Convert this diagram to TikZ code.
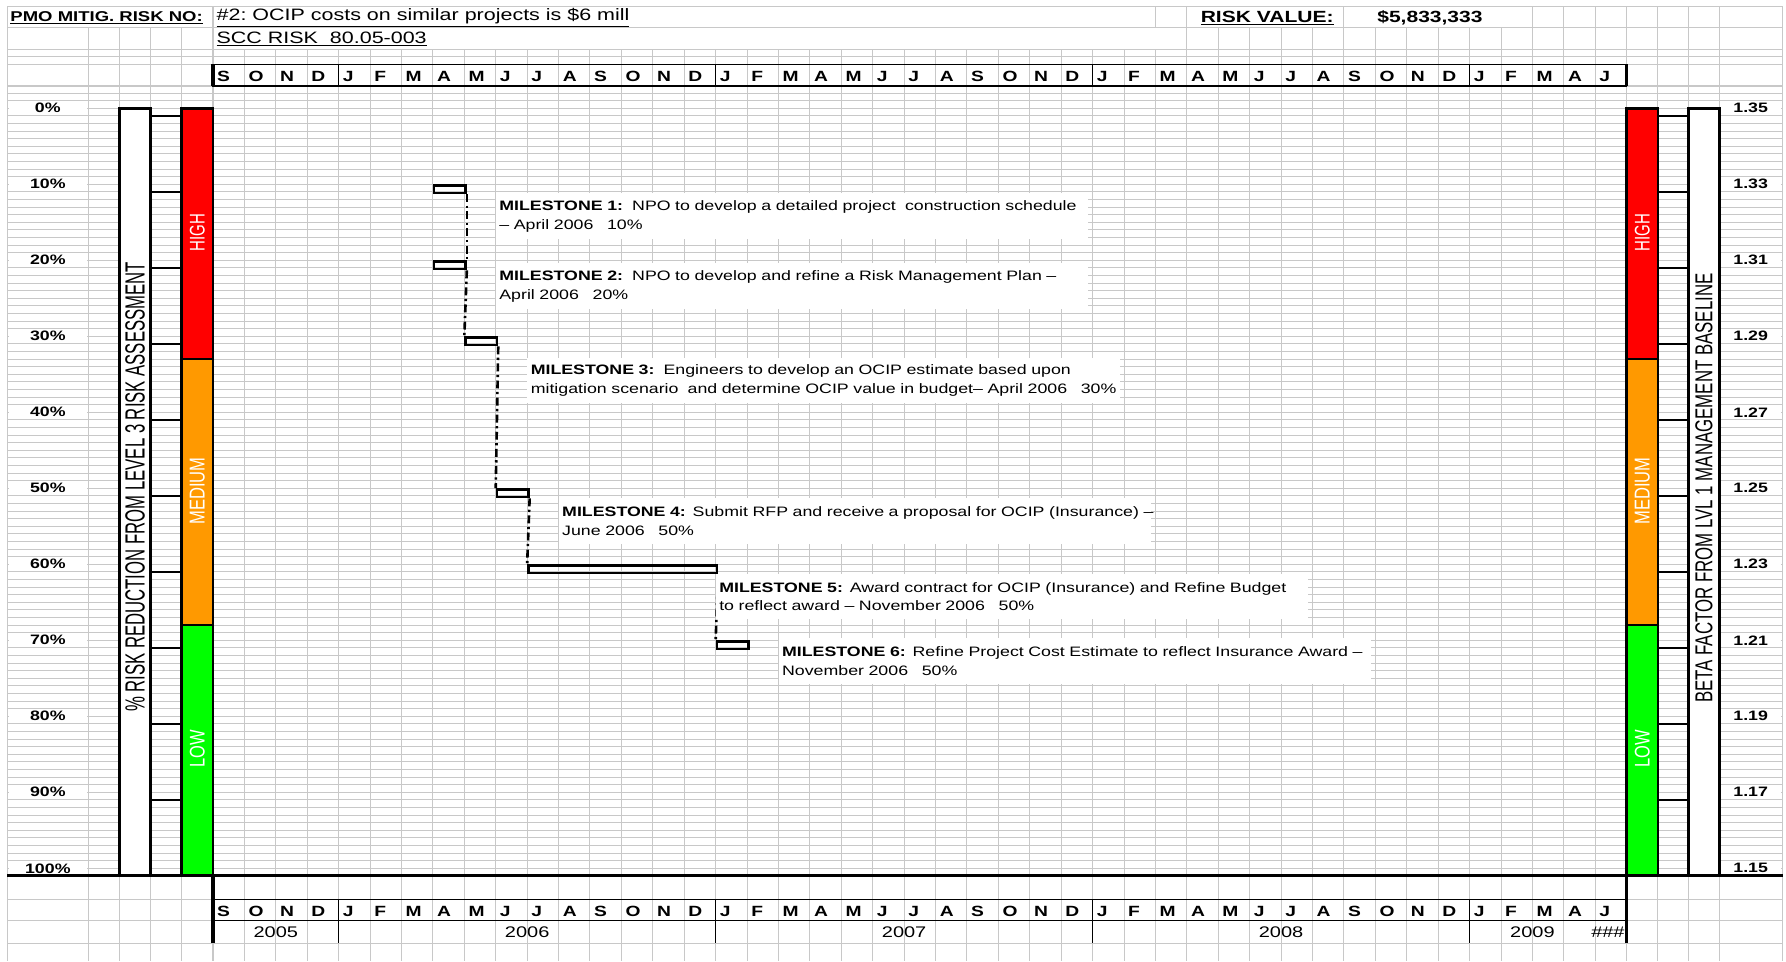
\documentclass[tikz,border=0pt]{standalone}
\usepackage{fontspec}
\setmainfont{Liberation Sans}[FakeStretch=1.3]
\usepackage{graphicx}

\definecolor{gridgray}{RGB}{200,200,200}
\definecolor{riskred}{RGB}{255,0,0}
\definecolor{riskorange}{RGB}{255,153,0}
\definecolor{riskgreen}{RGB}{0,255,0}

\newcommand{\barlabel}[3]{\resizebox{#1pt}{#2pt}{#3}}

\tikzset{
    gridline/.style={draw=gridgray, line width=0.9pt},
    barline/.style={draw=black, line width=2.3pt},
    tickline/.style={draw=black, line width=1.6pt},
    hdrline/.style={draw=black, line width=1.1pt},
    msbox/.style={draw, line width=2.2pt, minimum width=27.58pt, minimum height=6.67pt,
        inner sep=0pt, anchor=north west},
    note/.style={fill=white, anchor=north west, minimum width=520pt, minimum height=40pt,
        text width=514pt, inner xsep=3pt, inner ysep=0pt, align=left,
        font=\fontsize{12}{16.5}\selectfont},
    link/.style={line width=2.3pt, dash pattern=on 7pt off 3pt on 2pt off 3pt},
    pct/.style={fill=white, minimum height=12pt, inner sep=0pt,
        font=\bfseries\fontsize{12}{13}\selectfont},
    month/.style={anchor=west, inner sep=0pt, font=\bfseries\fontsize{13}{15}\selectfont},
    year/.style={inner sep=0pt, font=\fontsize{13.5}{15}\selectfont},
    risklevel/.style={rotate=90, inner sep=0pt, text=white},
    header/.style={anchor=west, inner sep=0pt, font=\fontsize{14.5}{16}\selectfont},
}

\begin{document}
\begin{tikzpicture}[x=1pt, y=-1pt]
    \pgfmathsetmacro\colw{27.58};
    \pgfmathsetmacro\rowh{6.673};
    \pgfmathsetmacro\xzero{187};
    \pgfmathsetmacro\yzero{95};
    \pgfmathsetmacro\ybase{768.7};

    \useasboundingbox (0,0) rectangle (1568,844);
    \fill[white] (0,0) rectangle (1568,844);

    \foreach \k in {0,...,101}
        \draw[gridline] (6.4, \yzero + \k * \rowh) -- (1565, \yzero + \k * \rowh);
    \foreach \y in {6,24.3,43.3,49.8,56.5,75.5,82,88.4,790,808,828}
        \draw[gridline] (6.4, \y) -- (1565, \y);
    \foreach \j in {0,...,45}
        \draw[gridline] (\xzero + \j * \colw, 43.3) -- (\xzero + \j * \colw, 844);
    \foreach \j in {0,31,32,...,45}
        \draw[gridline] (\xzero + \j * \colw, 24.3) -- (\xzero + \j * \colw, 43.3);
    \foreach \j in {0,30,31,36,42,43,44,45}
        \draw[gridline] (\xzero + \j * \colw, 6) -- (\xzero + \j * \colw, 24.3);
    \foreach \x in {77.6,105,132,159.5}
        \draw[gridline] (\x, 24.3) -- (\x, 844);
    \foreach \x in {6.4,1455.5,1482.5,1509.5,1565}
        \draw[gridline] (\x, 6) -- (\x, 844);

    \foreach \i in {0,...,10} {
        \pgfmathtruncatemacro\pv{10 * \i}
        \node[pct, minimum width=69pt] (pct\i) at (42, \yzero + \i * 10 * \rowh) {\pv\%};
    }
    \foreach \b [count=\i from 0] in {1.35,1.33,1.31,1.29,1.27,1.25,1.23,1.21,1.19,1.17,1.15}
        \node[pct, minimum width=54pt] (beta\i) at (1537, \yzero + \i * 10 * \rowh) {\b};

    \draw[barline, fill=white] (105, \yzero) rectangle (132, \ybase);
    \draw[barline, fill=white] (1482.5, \yzero) rectangle (1509.5, \ybase);
    \foreach \x in {159.5,1428.1} {
        \fill[riskred] (\x, \yzero) rectangle (\x + 27.4, \yzero + 33 * \rowh);
        \fill[riskorange] (\x, \yzero + 33 * \rowh) rectangle (\x + 27.4, \yzero + 68 * \rowh);
        \fill[riskgreen] (\x, \yzero + 68 * \rowh) rectangle (\x + 27.4, \ybase);
        \draw[barline] (\x, \yzero) rectangle (\x + 27.4, \ybase);
        \draw[barline] (\x, \yzero + 33 * \rowh) -- (\x + 27.4, \yzero + 33 * \rowh);
        \draw[barline] (\x, \yzero + 68 * \rowh) -- (\x + 27.4, \yzero + 68 * \rowh);
    }
    \foreach \i in {0,...,9} {
        \pgfmathsetmacro\ytick{\yzero + (10 * \i + 1) * \rowh}
        \draw[tickline] (132, \ytick) -- (159.5, \ytick);
        \draw[tickline] (1455.5, \ytick) -- (1482.5, \ytick);
    }

    \node[risklevel] (lhigh) at (173.25, 204) {\barlabel{33}{13}{HIGH}};
    \node[risklevel] (lmedium) at (173.25, 431) {\barlabel{59}{13}{MEDIUM}};
    \node[risklevel] (llow) at (173.25, 657.5) {\barlabel{33}{13}{LOW}};
    \node[risklevel] (rhigh) at (1441.8, 204) {\barlabel{33}{13}{HIGH}};
    \node[risklevel] (rmedium) at (1441.8, 431) {\barlabel{59}{13}{MEDIUM}};
    \node[risklevel] (rlow) at (1441.8, 657.5) {\barlabel{33}{13}{LOW}};
    \node[rotate=90, inner sep=0pt] (pctaxis) at (118.5, 427.5)
        {\barlabel{395}{17}{\% RISK REDUCTION FROM LEVEL 3 RISK ASSESSMENT}};
    \node[rotate=90, inner sep=0pt] (betaaxis) at (1496, 428.5)
        {\barlabel{377}{15}{BETA FACTOR FROM LVL 1 MANAGEMENT BASELINE}};

    \draw[line width=2pt] (6.4, \ybase) -- (1565, \ybase);

    \draw[hdrline] (\xzero, 56.5) rectangle (\xzero + 45 * \colw, 75.5);
    \draw[hdrline] (\xzero, 790) -- (\xzero + 45 * \colw, 790);
    \draw[hdrline] (\xzero, 808) -- (\xzero + 45 * \colw, 808);
    \foreach \j in {4,16,28,40} {
        \draw[hdrline] (\xzero + \j * \colw, 56.5) -- (\xzero + \j * \colw, 75.5);
        \draw[hdrline] (\xzero + \j * \colw, 790) -- (\xzero + \j * \colw, 828);
    }
    \foreach \x in {\xzero,1428.1} {
        \draw[line width=3pt] (\x, 56.5) -- (\x, 75.5);
        \draw[line width=3pt] (\x, \ybase) -- (\x, 828);
    }
    \foreach \m [count=\j from 0] in {S,O,N,D,J,F,M,A,M,J,J,A,S,O,N,D,J,F,M,A,M,J,J,A,S,O,N,D,J,F,M,A,M,J,J,A,S,O,N,D,J,F,M,A,J} {
        \node[month] (top\j) at (\xzero + \j * \colw + 3.5, 67) {\m};
        \node[month] (bot\j) at (\xzero + \j * \colw + 3.5, 800) {\m};
    }
    \node[year] (y2005) at (\xzero + 2 * \colw, 818.5) {2005};
    \node[year] (y2006) at (\xzero + 10 * \colw, 818.5) {2006};
    \node[year] (y2007) at (\xzero + 22 * \colw, 818.5) {2007};
    \node[year] (y2008) at (\xzero + 34 * \colw, 818.5) {2008};
    \node[year] (y2009) at (\xzero + 42 * \colw, 818.5) {2009};
    \node[year, anchor=east] (yover) at (1426.5, 818.5) {\#\#\#};

    \node[msbox] (m1) at (\xzero + 7 * \colw, \yzero + 10 * \rowh) {};
    \node[msbox] (m2) at (\xzero + 7 * \colw, \yzero + 20 * \rowh) {};
    \node[msbox] (m3) at (\xzero + 8 * \colw, \yzero + 30 * \rowh) {};
    \node[msbox] (m4) at (\xzero + 9 * \colw, \yzero + 50 * \rowh) {};
    \node[msbox, minimum width=165.5pt] (m5) at (\xzero + 10 * \colw, \yzero + 60 * \rowh) {};
    \node[msbox] (m6) at (\xzero + 16 * \colw, \yzero + 70 * \rowh) {};
    \draw[link] (m1.south east) -- (m2.north east);
    \draw[link] (m2.south east) -- (m3.north west);
    \draw[link] (m3.south east) -- (m4.north west);
    \draw[link] (m4.south east) -- (m5.north west);
    \draw[link] (m5.south east) -- (m6.north west);

    \node[note] (n1) at (\xzero + 9 * \colw, 169.5)
        {\mbox{\textbf{MILESTONE 1:}\ \ NPO to develop a detailed project\ \ construction schedule}\\
         \mbox{– April 2006\ \ \ 10\%}};
    \node[note] (n2) at (\xzero + 9 * \colw, 231)
        {\mbox{\textbf{MILESTONE 2:}\ \ NPO to develop and refine a Risk Management Plan –}\\
         \mbox{April 2006\ \ \ 20\%}};
    \node[note] (n3) at (\xzero + 10 * \colw, 314)
        {\mbox{\textbf{MILESTONE 3:}\ \ Engineers to develop an OCIP estimate based upon}\\
         \mbox{mitigation scenario\ \ and determine OCIP value in budget– April 2006\ \ \ 30\%}};
    \node[note] (n4) at (\xzero + 11 * \colw, 437)
        {\mbox{\textbf{MILESTONE 4:} Submit RFP and receive a proposal for OCIP (Insurance) –}\\
         \mbox{June 2006\ \ \ 50\%}};
    \node[note] (n5) at (\xzero + 16 * \colw, 503.5)
        {\mbox{\textbf{MILESTONE 5:} Award contract for OCIP (Insurance) and Refine Budget}\\
         \mbox{to reflect award – November 2006\ \ \ 50\%}};
    \node[note] (n6) at (\xzero + 18 * \colw, 560)
        {\mbox{\textbf{MILESTONE 6:} Refine Project Cost Estimate to reflect Insurance Award –}\\
         \mbox{November 2006\ \ \ 50\%}};

    \node[header, font=\bfseries\fontsize{12.5}{15}\selectfont] (pmo) at (9, 15.5)
        {\underline{PMO MITIG. RISK NO:}};
    \node[header] (riskno) at (190, 15.5)
        {\underline{\#2:\ OCIP costs on similar projects is \$6 mill}};
    \node[header] (scc) at (190, 34)
        {\underline{SCC RISK\ \ 80.05-003}};
    \node[header, font=\bfseries\fontsize{14.2}{16}\selectfont] (rvlabel) at (1054, 15.5)
        {\underline{RISK VALUE:}};
    \node[header, font=\bfseries\fontsize{14.2}{16}\selectfont] (rvalue) at (1209, 15.5)
        {\$5,833,333};
\end{tikzpicture}
\end{document}
